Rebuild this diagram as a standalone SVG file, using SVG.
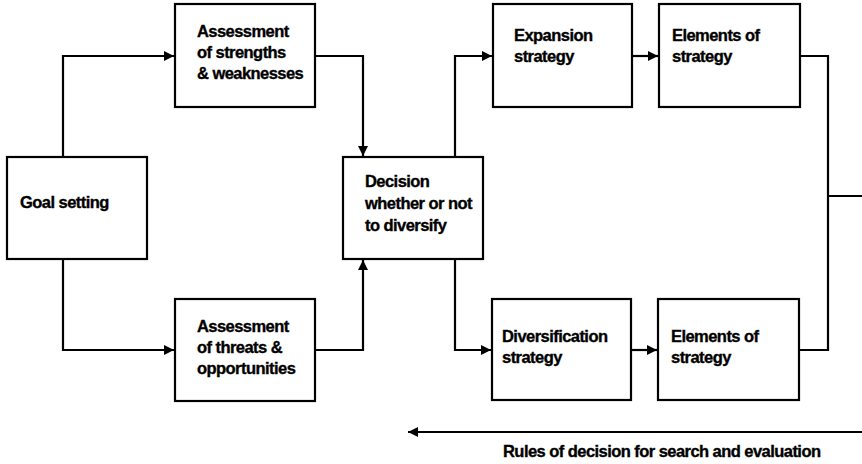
<svg xmlns="http://www.w3.org/2000/svg" width="862" height="464" viewBox="0 0 862 464">
  <style>
    .box { fill: #fff; stroke: #000; stroke-width: 2.2; }
    .lbl { font-family: "Liberation Sans", Arial, sans-serif; font-weight: bold; font-size: 16.5px; letter-spacing: -0.55px; fill: #000; stroke: #000; stroke-width: 0.35px; }
    .wire { fill: none; stroke: #000; stroke-width: 2.2; }
  </style>
  <defs>
    <marker id="arrow" viewBox="0 0 10 10" refX="10" refY="5" markerWidth="11" markerHeight="10" markerUnits="userSpaceOnUse" orient="auto">
      <path d="M0,0 L10,5 L0,10 Z" fill="#000"/>
    </marker>
  </defs>
  <rect width="862" height="464" fill="#fff"/>

  <!-- flow lines between the boxes -->
  <g id="connectors">
    <polyline class="wire" points="63,157 63,56 174,56" marker-end="url(#arrow)"/>
    <polyline class="wire" points="63,259 63,350 174,350" marker-end="url(#arrow)"/>
    <polyline class="wire" points="315,56 363,56 363,156" marker-end="url(#arrow)"/>
    <polyline class="wire" points="315,350 363,350 363,260" marker-end="url(#arrow)"/>
    <polyline class="wire" points="455,157 455,56 492,56" marker-end="url(#arrow)"/>
    <polyline class="wire" points="455,259 455,350 491,350" marker-end="url(#arrow)"/>
    <line class="wire" x1="632" y1="56" x2="658" y2="56" marker-end="url(#arrow)"/>
    <line class="wire" x1="631" y1="350" x2="657" y2="350" marker-end="url(#arrow)"/>
    <polyline class="wire" points="800,56 828,56 828,350 799,350"/>
    <line class="wire" x1="828" y1="196" x2="862" y2="196"/>
    <line class="wire" x1="862" y1="432" x2="408" y2="432" marker-end="url(#arrow)"/>
  </g>

  <g id="goal">
    <rect class="box" x="7" y="157" width="140" height="102"/>
    <text class="lbl" x="20" y="208">Goal setting</text>
  </g>

  <g id="strengths">
    <rect class="box" x="175" y="4" width="140" height="103"/>
    <text class="lbl" x="197" y="37">Assessment</text>
    <text class="lbl" x="197" y="58">of strengths</text>
    <text class="lbl" x="197" y="79">&amp; weaknesses</text>
  </g>

  <g id="threats">
    <rect class="box" x="175" y="299" width="140" height="102"/>
    <text class="lbl" x="197" y="332">Assessment</text>
    <text class="lbl" x="197" y="353">of threats &amp;</text>
    <text class="lbl" x="197" y="374">opportunities</text>
  </g>

  <g id="decision">
    <rect class="box" x="343" y="157" width="140" height="102"/>
    <text class="lbl" x="365" y="187">Decision</text>
    <text class="lbl" x="365" y="209">whether or not</text>
    <text class="lbl" x="365" y="231">to diversify</text>
  </g>

  <g id="expansion">
    <rect class="box" x="493" y="4" width="139" height="103"/>
    <text class="lbl" x="514" y="41">Expansion</text>
    <text class="lbl" x="514" y="62">strategy</text>
  </g>

  <g id="elements-top">
    <rect class="box" x="659" y="4" width="141" height="103"/>
    <text class="lbl" x="672" y="41">Elements of</text>
    <text class="lbl" x="672" y="62">strategy</text>
  </g>

  <g id="diversification">
    <rect class="box" x="492" y="299" width="139" height="101"/>
    <text class="lbl" x="502" y="342">Diversification</text>
    <text class="lbl" x="502" y="363">strategy</text>
  </g>

  <g id="elements-bottom">
    <rect class="box" x="658" y="299" width="141" height="101"/>
    <text class="lbl" x="671" y="342">Elements of</text>
    <text class="lbl" x="671" y="363">strategy</text>
  </g>

  <g id="rules">
    <text class="lbl" x="503" y="457">Rules of decision for search and evaluation</text>
  </g>
</svg>
